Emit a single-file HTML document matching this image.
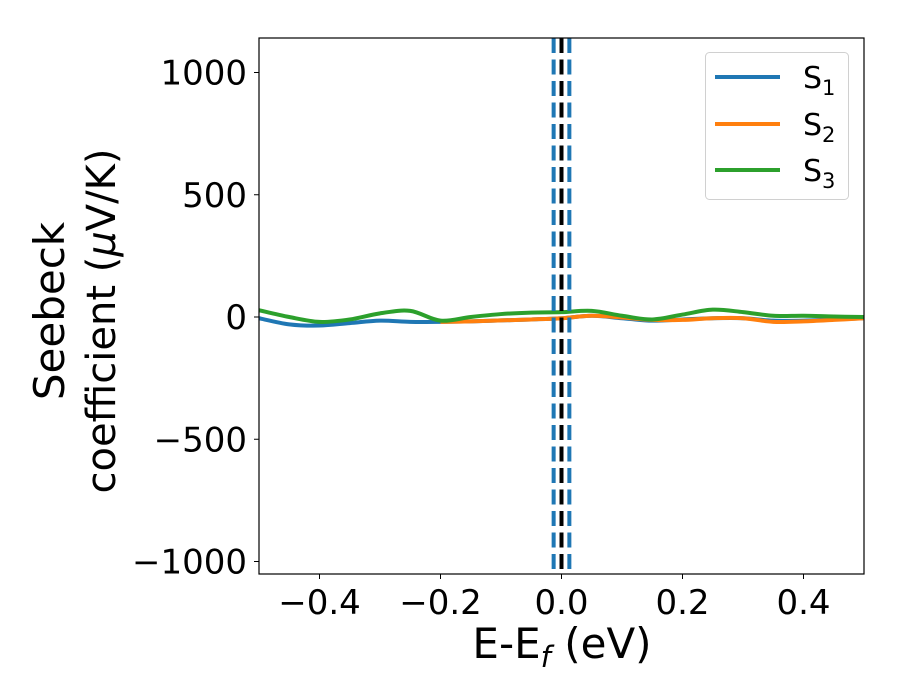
<!DOCTYPE html>
<html><head><meta charset="utf-8"><style>
html,body{margin:0;padding:0;background:#fff;}
svg{display:block;font-family:"DejaVu Sans","Liberation Sans",sans-serif;}
</style></head><body>
<svg id="chart" width="900" height="700" viewBox="0 0 900 700" xmlns="http://www.w3.org/2000/svg">
<g id="plot"></g>
</svg>
<script>
const xs = [-0.5,-0.45,-0.4,-0.35,-0.3,-0.25,-0.2,-0.15,-0.1,-0.05,0,0.05,0.1,0.15,0.2,0.25,0.3,0.35,0.4,0.45,0.5];
const s1 = [-5,-30,-35,-25,-15,-20,-20,-18,-14,-10,-5,5,-5,-15,-10,-5,-5,-15,-15,-10,-5];
const s2 = [null,null,null,null,null,null,-20,-18,-14,-10,-5,5,-2,-12,-12,-5,-5,-20,-18,-12,-5];
const s3 = [28,0,-20,-10,15,25,-15,0,12,18,20,25,5,-10,10,30,20,5,5,2,0];
const vlinesBlue = [-0.013,0.013];
const vlineBlack = [0];
const xTicks = [-0.4,-0.2,0.0,0.2,0.4];
const xTickLabels = ["\u22120.4","\u22120.2","0.0","0.2","0.4"];
const yTicks = [1000,500,0,-500,-1000];
const yTickLabels = ["1000","500","0","\u2212500","\u22121000"];
const seriesNames = ["1","2","3"];
const colors = ["#1f77b4","#ff7f0e","#2ca02c"];

const L=259,R=864,T=38,B=574;
const X = v => L + (v+0.5)/1.0*(R-L);
const Y = v => 317 - v*0.2445;
const NS="http://www.w3.org/2000/svg";
const svg=document.getElementById('chart');
const plot=document.getElementById('plot');
function mk(tag,attrs,parent){const e=document.createElementNS(NS,tag);for(const k in attrs)e.setAttribute(k,attrs[k]);(parent||svg).appendChild(e);return e;}

const clip=mk('clipPath',{id:'c'});mk('rect',{x:L,y:T,width:R-L,height:B-T},clip);

function smoothPath(pts){
  let d=`M${pts[0][0]},${pts[0][1]}`;
  for(let i=0;i<pts.length-1;i++){
    const p0=pts[i-1]||pts[i],p1=pts[i],p2=pts[i+1],p3=pts[i+2]||p2;
    const c1=[p1[0]+(p2[0]-p0[0])/6,p1[1]+(p2[1]-p0[1])/6];
    const c2=[p2[0]-(p3[0]-p1[0])/6,p2[1]-(p3[1]-p1[1])/6];
    d+=` C${c1[0]},${c1[1]} ${c2[0]},${c2[1]} ${p2[0]},${p2[1]}`;
  }
  return d;
}
[s1,s2,s3].forEach((s,k)=>{
  const pts=[];xs.forEach((x,i)=>{if(s[i]!==null)pts.push([X(x),Y(s[i])]);});
  const p=mk('path',{d:smoothPath(pts),fill:'none',stroke:colors[k],'stroke-width':4,'clip-path':'url(#c)'},plot);
  
  
});
vlineBlack.forEach(v=>{
  const l=mk('line',{x1:X(v),x2:X(v),y1:T,y2:B,stroke:'#000','stroke-width':4,'stroke-dasharray':'15 6.5'},plot);
  
  
});
vlinesBlue.forEach(v=>{
  const l=mk('line',{x1:X(v),x2:X(v),y1:T,y2:B,stroke:'#1f77b4','stroke-width':4,'stroke-dasharray':'15 6.5'},plot);
  
  
});
const frame=mk('rect',{x:L,y:T,width:R-L,height:B-T,fill:'none',stroke:'#000','stroke-width':1.2});



xTicks.forEach((v,i)=>{
  mk('line',{x1:X(v),x2:X(v),y1:B,y2:B+5,stroke:'#000','stroke-width':1});
  const t=mk('text',{x:X(v),y:B+40,'text-anchor':'middle','font-size':34});
  t.textContent=xTickLabels[i];
  
  
});
yTicks.forEach((v,i)=>{
  mk('line',{x1:L-5,x2:L,y1:Y(v),y2:Y(v),stroke:'#000','stroke-width':1});
  const t=mk('text',{x:L-12,y:Y(v)+12,'text-anchor':'end','font-size':34});
  t.textContent=yTickLabels[i];
  
  
});

const xt=mk('text',{x:562,y:658,'text-anchor':'middle','font-size':42});
xt.innerHTML='E-E<tspan font-size="29" font-style="italic" dy="9">f</tspan><tspan dy="-9"> (eV)</tspan>';



const yt=mk('g',{transform:'translate(0,0)'});


const y1=mk('text',{x:0,y:0,'text-anchor':'middle','font-size':42,transform:'translate(64,311) rotate(-90)'},yt);
y1.textContent='Seebeck';
const y2=mk('text',{x:0,y:0,'text-anchor':'middle','font-size':40,transform:'translate(115,321) rotate(-90)'},yt);
y2.innerHTML='coefficient (<tspan font-style="italic">μ</tspan>V/K)';

const lg=mk('g',{});


mk('rect',{x:705.5,y:52.5,width:143,height:147,rx:4,fill:'#fff',stroke:'#d0d0d0','stroke-width':1},lg);
[77,124,170].forEach((yy,k)=>{
  const e=mk('g',{},lg);
  
  
  mk('line',{x1:715,x2:780,y1:yy,y2:yy,stroke:colors[k],'stroke-width':4},e);
  const t=mk('text',{x:803,y:yy+11,'font-size':30},e);
  t.innerHTML='S<tspan font-size="21" dy="7">'+seriesNames[k]+'</tspan>';
});
</script>
</body></html>
